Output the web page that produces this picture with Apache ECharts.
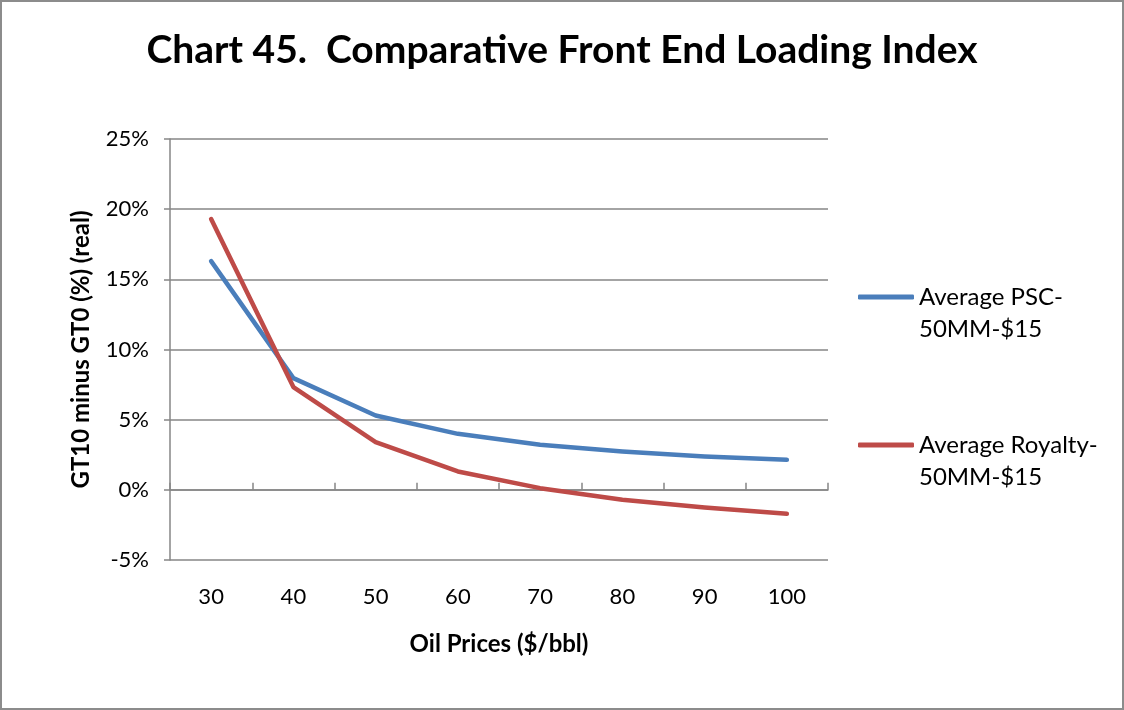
<!DOCTYPE html>
<html><head><meta charset="utf-8">
<script src="https://cdn.jsdelivr.net/npm/echarts@6/dist/echarts.min.js"></script>
<style>
html,body{margin:0;padding:0;background:#fff;}
#wrap{width:1124px;height:710px;box-sizing:border-box;border:2px solid #8c8c8c;}
#c{width:1120px;height:706px;}
</style></head><body>
<div id="wrap"><div id="c"></div></div>
<script>
var categories = ['30','40','50','60','70','80','90','100'];
var pscValues = [16.3, 7.96, 5.3, 3.99, 3.21, 2.73, 2.38, 2.14];
var royaltyValues = [19.3, 7.32, 3.4, 1.31, 0.12, -0.71, -1.26, -1.71];
var seriesNames = ['Average PSC-50MM-$15', 'Average Royalty-50MM-$15'];
var legendLabels = [' \nAverage PSC-\n50MM-$15', ' \nAverage Royalty-\n50MM-$15'];
var yTicks = {min: -5, max: 25, interval: 5};

var FONT = 'Lato';
function legendCfg(i, top) {
  return {data: [seriesNames[i]], left: 856, top: top, padding: 0, orient: 'vertical', icon: 'roundRect',
    itemWidth: 56, itemHeight: 5, itemGap: 0,
    formatter: function(){return legendLabels[i];},
    textStyle: {fontSize: 24, color: '#000', lineHeight: 32}};
}
var chart = echarts.init(document.getElementById('c'));
chart.setOption({
  animation: false,
  textStyle: {fontFamily: FONT},
  title: {
    text: 'Chart 45.  Comparative Front End Loading Index',
    left: 'center', top: 24,
    textStyle: {fontFamily: FONT, fontWeight: 'bold', fontSize: 39, color: '#000'}
  },
  legend: [legendCfg(0, 247), legendCfg(1, 395)],
  grid: {left: 168, right: 294, top: 137, bottom: 148},
  xAxis: [
    {type: 'category', data: categories, position: 'bottom', boundaryGap: true,
     axisLine: {show: false, onZero: false}, axisTick: {show: false},
     axisLabel: {fontSize: 22, color: '#000', margin: 26},
     name: 'Oil Prices ($/bbl)', nameLocation: 'middle', nameGap: 72,
     nameTextStyle: {fontSize: 24, fontWeight: 'bold', color: '#000'}},
    {type: 'category', data: categories, boundaryGap: true,
     axisLine: {show: true, onZero: true, lineStyle: {color: '#868686', width: 1.5}},
     axisTick: {show: true, length: 7, alignWithLabel: false, lineStyle: {color: '#868686', width: 1.5}},
     axisLabel: {show: false}}
  ],
  yAxis: {
    type: 'value', min: yTicks.min, max: yTicks.max, interval: yTicks.interval,
    axisLine: {show: true, lineStyle: {color: '#868686', width: 1.5}},
    axisTick: {show: true, length: 6, lineStyle: {color: '#868686', width: 1.5}},
    splitLine: {show: true, lineStyle: {color: '#868686', width: 1.5}},
    axisLabel: {fontSize: 22, color: '#000', margin: 21, formatter: '{value}%'},
    name: 'GT10 minus GT0 (%) (real)', nameLocation: 'middle', nameGap: 77, nameRotate: 90,
    nameTextStyle: {fontSize: 24, fontWeight: 'bold', color: '#000'}
  },
  series: [
    {name: seriesNames[0], type: 'line', data: pscValues, xAxisIndex: 0,
     symbol: 'none', lineStyle: {color: '#4A7EBB', width: 4.5, cap: 'round', join: 'round'},
     itemStyle: {color: '#4A7EBB'}},
    {name: seriesNames[1], type: 'line', data: royaltyValues, xAxisIndex: 0,
     symbol: 'none', lineStyle: {color: '#BE4B48', width: 4.5, cap: 'round', join: 'round'},
     itemStyle: {color: '#BE4B48'}}
  ]
});
</script>
</body></html>
